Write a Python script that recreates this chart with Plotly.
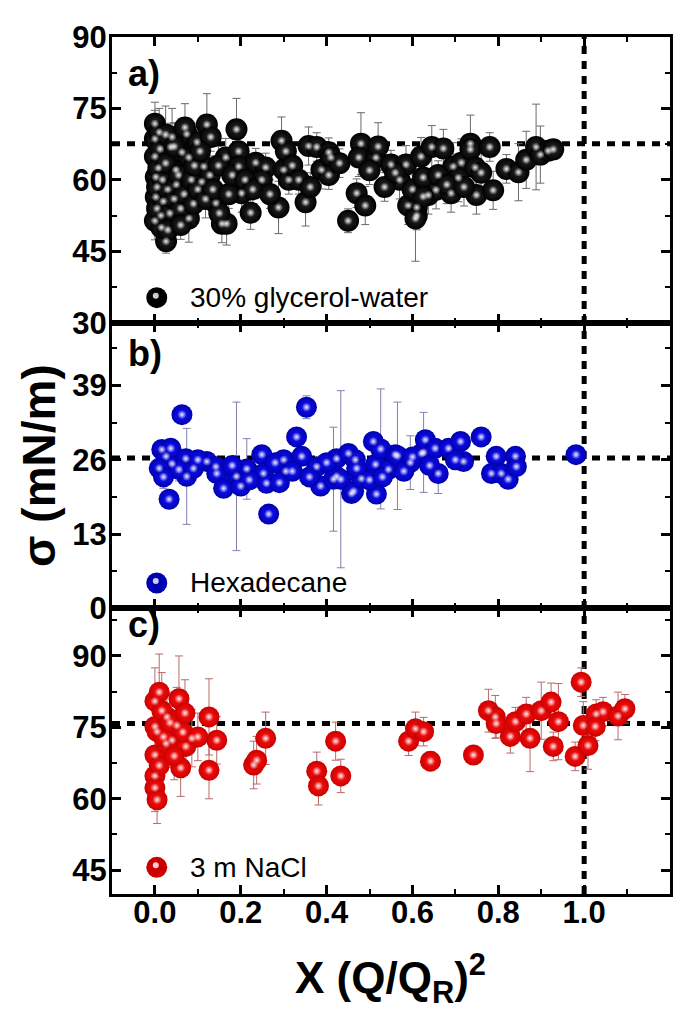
import plotly.graph_objects as go
from plotly.subplots import make_subplots

# ---------------- data ----------------
# panel a) 30% glycerol-water
glyc_x = [0.000, 0.000, 0.000, 0.002, 0.002, 0.014, 0.026, 0.000, 0.037, 0.010,
          0.049, 0.063, 0.074, 0.079, 0.079, 0.098, 0.114, 0.109, 0.121, 0.130,
          0.142, 0.156, 0.167, 0.165, 0.190, 0.195, 0.195, 0.202, 0.223, 0.235,
          0.258, 0.249, 0.288, 0.295, 0.305, 0.300, 0.312, 0.351, 0.358, 0.377,
          0.388, 0.405,
          0.005, 0.005, 0.008, 0.012, 0.018, 0.020, 0.025, 0.030, 0.035, 0.040,
          0.045, 0.050, 0.055, 0.060, 0.068, 0.085, 0.090, 0.092, 0.100, 0.105,
          0.118, 0.128, 0.135, 0.148, 0.150, 0.172, 0.180, 0.210, 0.228, 0.268,
          0.320, 0.335, 0.362, 0.015, 0.030, 0.060, 0.025, 0.045, 0.070,
          0.410, 0.405, 0.450, 0.470, 0.490, 0.480, 0.475, 0.515, 0.520, 0.550,
          0.570, 0.585, 0.590, 0.610, 0.610, 0.607, 0.620, 0.637, 0.645, 0.672,
          0.655, 0.690, 0.695, 0.714, 0.707, 0.735, 0.735, 0.746, 0.749, 0.780,
          0.788, 0.819, 0.847, 0.865, 0.888, 0.898, 0.916, 0.928,
          0.430, 0.500, 0.535, 0.560, 0.600, 0.625, 0.660, 0.680, 0.720, 0.760, 0.625]
glyc_y = [71.8, 68.6, 64.9, 60.6, 56.4, 52.5, 47.1, 51.4, 66.9, 70.0,
          62.1, 65.8, 69.6, 64.7, 51.9, 67.9, 62.8, 59.6, 71.6, 69.0,
          55.1, 50.8, 50.8, 64.7, 70.6, 66.0, 62.8, 57.2, 53.1, 63.6,
          62.6, 60.0, 54.2, 68.2, 66.0, 62.1, 60.0, 55.3, 67.1, 66.9,
          62.1, 65.8,
          58.5, 54.0, 62.5, 66.5, 60.0, 55.5, 63.5, 58.0, 53.0, 69.0,
          56.0, 59.0, 61.0, 54.0, 57.0, 60.0, 55.0, 63.0, 58.0, 66.0,
          56.0, 61.0, 58.0, 63.0, 53.0, 57.0, 61.0, 60.0, 58.0, 57.0,
          63.0, 60.0, 58.5, 50.0, 49.5, 50.5, 69.5, 67.0, 71.0,
          64.7, 61.0, 51.4, 57.2, 54.6, 67.6, 64.7, 64.7, 67.0, 63.2,
          60.0, 63.2, 54.6, 54.2, 52.5, 51.9, 64.9, 56.8, 66.9, 66.6,
          57.9, 57.2, 62.8, 63.6, 60.4, 67.6, 66.4, 62.6, 56.8, 66.9,
          57.8, 62.3, 61.6, 64.2, 66.9, 65.3, 66.1, 66.4,
          63.5, 62.0, 58.5, 61.5, 58.0, 60.5, 61.0, 59.0, 58.5, 61.5, 56.5]
glyc_err = [4.5, 6, 7, 5, 5, 4, 2.5, 4, 5, 5,
            5, 6, 3, 4, 5, 4, 5, 4, 6.5, 3,
            5, 4, 4.5, 4, 6.5, 3, 3, 4, 3.5, 3,
            3, 3, 5.5, 5, 3, 3, 3, 5, 4, 3,
            4, 3,
            4, 4, 5, 6, 5, 4, 5, 4, 4, 6,
            4, 4, 5, 4, 4, 4, 4, 5, 4, 5,
            4, 4, 4, 4, 4, 3, 4, 3, 3, 3,
            3, 3, 3, 3, 3.5, 3, 6, 5, 5,
            3, 3, 2.5, 3, 4, 6.5, 4, 3, 5, 3,
            4, 4, 4, 3, 3, 9, 4, 4, 4.5, 4,
            4, 4, 5, 5, 5, 6, 3, 4, 4, 3,
            4, 3, 6, 6, 9, 6, 2, 2,
            3, 3, 3, 3, 4, 4, 3, 4, 4, 4, 4]

# panel b) Hexadecane
hexa_x = [0.063, 0.033, 0.016, 0.026, 0.040, 0.037, 0.072, 0.074, 0.056, 0.121,
          0.142, 0.144, 0.160, 0.190, 0.200, 0.214, 0.249, 0.253, 0.260, 0.265,
          0.300, 0.305, 0.330, 0.353, 0.342, 0.377, 0.386, 0.416, 0.423, 0.423,
          0.433, 0.451, 0.458, 0.467, 0.463, 0.481, 0.514, 0.516, 0.509, 0.526,
          0.544, 0.560, 0.565, 0.595, 0.626, 0.621, 0.630, 0.653, 0.660, 0.684,
          0.712, 0.719, 0.760, 0.795, 0.784, 0.807, 0.823, 0.840, 0.842, 0.981,
          0.090, 0.100, 0.180, 0.220, 0.280, 0.290, 0.320, 0.360, 0.400, 0.470,
          0.500, 0.530, 0.580, 0.600, 0.640, 0.700, 0.010, 0.020]
hexa_y = [33.9, 19.1, 27.8, 26.6, 25.3, 28.0, 26.2, 23.1, 24.3, 25.7,
          24.8, 23.6, 21.0, 23.1, 21.4, 24.4, 26.9, 23.6, 21.9, 16.5,
          26.0, 24.0, 30.0, 35.2, 26.6, 24.8, 21.4, 22.6, 26.2, 23.1,
          22.6, 27.1, 20.1, 26.0, 20.5, 22.7, 25.2, 20.0, 29.2, 27.9,
          24.3, 26.9, 26.7, 25.5, 27.3, 27.1, 29.5, 28.0, 23.6, 28.0,
          29.2, 25.7, 30.0, 26.6, 23.6, 23.6, 22.6, 26.6, 24.8, 26.9,
          24.5, 26.0, 25.0, 22.5, 25.5, 22.0, 24.0, 23.0, 25.5, 24.5,
          22.5, 23.0, 24.0, 26.5, 25.0, 26.0, 24.5, 23.0]
hexa_err = [1.5, 1.5, 1.5, 2, 1.5, 1.5, 1.5, 8.4, 2, 1.5,
            1.5, 1.5, 1.5, 13, 1.5, 5.3, 1.5, 1.5, 1.5, 1.5,
            1.5, 1.5, 1.5, 2, 1.5, 1.5, 1.5, 9.1, 1.5, 1.5,
            15.5, 1.5, 1.5, 1.5, 1.5, 1.5, 1.5, 1.5, 1.5, 10.5,
            1.5, 1.5, 9.4, 4.7, 7.0, 1.5, 1.5, 1.5, 3.5, 1.5,
            1.5, 1.5, 1.5, 1.5, 1.5, 1.5, 1.5, 1.5, 1.5, 1.5,
            1.5, 1.5, 1.5, 1.5, 1.5, 1.5, 1.5, 1.5, 1.5, 1.5,
            1.5, 1.5, 1.5, 1.5, 1.5, 1.5, 2, 2]

# panel c) 3 m NaCl
nacl_x = [0.000, 0.010, 0.000, 0.005, 0.000, 0.000, 0.000, 0.005, 0.056, 0.051,
          0.040, 0.060, 0.086, 0.072, 0.026, 0.028, 0.016, 0.126, 0.144, 0.126,
          0.230, 0.237, 0.258, 0.377, 0.381, 0.421, 0.433, 0.591, 0.607, 0.626,
          0.642, 0.742, 0.777, 0.793, 0.795, 0.828, 0.840, 0.865, 0.874, 0.900,
          0.923, 0.928, 0.940, 0.993, 0.979, 0.998, 1.009, 1.028, 1.044, 1.079,
          1.095, 1.026,
          0.010, 0.020, 0.035, 0.045, 0.065, 0.070, 0.100]
nacl_y = [80.5, 82.4, 75.2, 74.1, 69.2, 64.8, 62.3, 59.8, 81.0, 75.4,
          72.3, 66.5, 72.7, 71.0, 71.6, 77.2, 78.5, 77.2, 72.3, 66.0,
          67.1, 68.1, 72.7, 65.8, 62.7, 72.1, 64.8, 72.1, 74.7, 74.1,
          67.9, 69.2, 78.5, 77.2, 75.8, 73.1, 76.2, 77.8, 72.7, 78.5,
          80.3, 71.0, 76.2, 84.5, 68.9, 75.4, 71.2, 77.8, 78.3, 77.4,
          78.9, 75.2,
          67.0, 73.0, 76.0, 69.0, 74.0, 78.0, 73.0]
nacl_err = [7, 8, 5, 6, 5, 5, 5, 5, 9, 8,
            5, 6, 6, 5, 5, 5, 8, 8, 5, 6,
            5, 5, 5.5, 4, 4, 4, 3.5, 3, 3.5, 3,
            2, 2, 4.5, 4.5, 3, 3.5, 3, 3.5, 7, 6,
            4, 3, 8, 3, 3, 5, 5, 3, 3, 5,
            3, 3,
            5, 5, 6, 5, 6, 7, 5]

REF_A, REF_B, REF_C = 67.6, 26.3, 75.8   # dashed reference levels
REF_X = 1.0                              # dashed vertical reference

panels = [
    dict(x=glyc_x, y=glyc_y, e=glyc_err, name="30% glycerol-water", label="a)",
         edge="#000000", center="#2a2a2a", hl="rgba(240,240,240,1)", ebar="#6a6a6a",
         ref=REF_A, rng=[30, 90], tick0=30, dtick=15, size=22),
    dict(x=hexa_x, y=hexa_y, e=hexa_err, name="Hexadecane", label="b)",
         edge="#0000b0", center="#1414ff", hl="rgba(240,240,255,1)", ebar="#8080b0",
         ref=REF_B, rng=[0, 50], tick0=0, dtick=13, size=21),
    dict(x=nacl_x, y=nacl_y, e=nacl_err, name="3 m NaCl", label="c)",
         edge="#cc0000", center="#ff1414", hl="rgba(255,240,240,1)", ebar="#b86a6a",
         ref=REF_C, rng=[40, 100], tick0=45, dtick=15, size=21),
]

FONT = "Liberation Sans, Arial, Helvetica, sans-serif"

# The page body adds an 8px margin; the figure is sized so the page matches.
OFF = 8
W, H = 693 - 2 * OFF, 1019 - 2 * OFF
PLOT_L, PLOT_R, PLOT_T, PLOT_B = 112, 673, 26, 894      # page pixels
L, T = PLOT_L - OFF, PLOT_T - OFF
R = W - (PLOT_R - OFF)
B = H - (PLOT_B - OFF)
PW, PH = PLOT_R - PLOT_L, PLOT_B - PLOT_T

fig = make_subplots(rows=3, cols=1, shared_xaxes=True, vertical_spacing=0)

for i, p in enumerate(panels):
    row = i + 1
    fig.add_trace(go.Scatter(
        x=p["x"], y=p["y"], mode="markers", name=p["name"], showlegend=False,
        hoverinfo="skip",
        marker=dict(size=p["size"], color=p["edge"],
                    gradient=dict(type="radial", color=p["center"]),
                    line=dict(width=0)),
        error_y=dict(type="data", array=p["e"], visible=True, color=p["ebar"],
                     thickness=1, width=4),
    ), row=row, col=1)
    fig.add_trace(go.Scatter(
        x=p["x"], y=p["y"], mode="markers", showlegend=False, hoverinfo="skip",
        marker=dict(size=9, color=p["hl"].replace(",1)", ",0)"),
                    gradient=dict(type="radial", color=p["hl"]),
                    line=dict(width=0)),
    ), row=row, col=1)
    fig.add_hline(y=p["ref"], row=row, col=1, layer="below",
                  line=dict(color="black", width=5, dash="8px,7px"))

fig.add_shape(type="line", xref="x", yref="paper", x0=REF_X, x1=REF_X, y0=0, y1=1,
              layer="below", line=dict(color="black", width=5, dash="8px,7px"))


def ypix(py):
    """page pixel y -> paper fraction"""
    return (PLOT_B - py) / PH


def xpix(px):
    """page pixel x -> paper fraction"""
    return (px - PLOT_L) / PW


axis_common = dict(showline=True, linewidth=3, linecolor="black", mirror="allticks",
                   ticks="inside", ticklen=9, tickwidth=2.5, tickcolor="black",
                   showgrid=False, zeroline=False)

for i, p in enumerate(panels):
    row = i + 1
    fig.update_yaxes(range=p["rng"], tickmode="linear", tick0=p["tick0"], dtick=p["dtick"],
                     minor=dict(ticks="inside", ticklen=5, tickwidth=2, tickcolor="black",
                                dtick=p["dtick"] / 2, tick0=p["tick0"]),
                     tickfont=dict(family=FONT, size=31, color="black", weight="bold"),
                     ticklabelstandoff=-4,
                     row=row, col=1, **axis_common)
    fig.update_xaxes(range=[-0.1, 1.2], tickmode="linear", tick0=0, dtick=0.2,
                     tickformat=".1f",
                     minor=dict(ticks="inside", ticklen=5, tickwidth=2, tickcolor="black",
                                dtick=0.1, tick0=0),
                     showticklabels=(row == 3),
                     tickfont=dict(family=FONT, size=31, color="black", weight="bold"),
                     ticklabelstandoff=-11,
                     row=row, col=1, **axis_common)

label_y = [63, 347, 621]
legend_y = [290, 579, 867]
for i, p in enumerate(panels):
    fig.add_annotation(text=p["label"], xref="paper", yref="paper",
                       x=xpix(126), y=ypix(label_y[i]),
                       xanchor="left", yanchor="middle", showarrow=False,
                       font=dict(family=FONT, size=36, color="black", weight="bold"))
    cx, cy = xpix(157), ypix(legend_y[i])
    fig.add_shape(type="circle", xref="paper", yref="paper", xsizemode="pixel",
                  ysizemode="pixel", xanchor=cx, yanchor=cy, x0=-10.5, x1=10.5,
                  y0=-10.5, y1=10.5, fillcolor=p["edge"], line=dict(width=0))
    fig.add_shape(type="circle", xref="paper", yref="paper", xsizemode="pixel",
                  ysizemode="pixel", xanchor=cx, yanchor=cy, x0=-4, x1=2, y0=-1, y1=5,
                  fillcolor=p["hl"].replace(",1)", ",0.85)"), line=dict(width=0))
    fig.add_annotation(text=p["name"], xref="paper", yref="paper",
                       x=xpix(188), y=ypix(legend_y[i]),
                       xanchor="left", yanchor="middle", showarrow=False,
                       font=dict(family=FONT, size=28, color="black"))

fig.add_annotation(text="X (Q/Q<sub>R</sub>)<sup>2</sup>", xref="paper", yref="paper",
                   x=xpix(392), y=ypix(980), xanchor="center", yanchor="middle",
                   showarrow=False,
                   font=dict(family=FONT, size=44, color="black", weight="bold"))
fig.add_annotation(text="σ (mN/m)", xref="paper", yref="paper",
                   x=xpix(38), y=ypix(460), xanchor="center",
                   yanchor="middle", textangle=-90, showarrow=False,
                   font=dict(family=FONT, size=46, color="black", weight="bold"))

fig.update_layout(width=W, height=H, margin=dict(l=L, r=R, t=T, b=B),
                  paper_bgcolor="white", plot_bgcolor="white", showlegend=False)

fig.write_html("out.html")
